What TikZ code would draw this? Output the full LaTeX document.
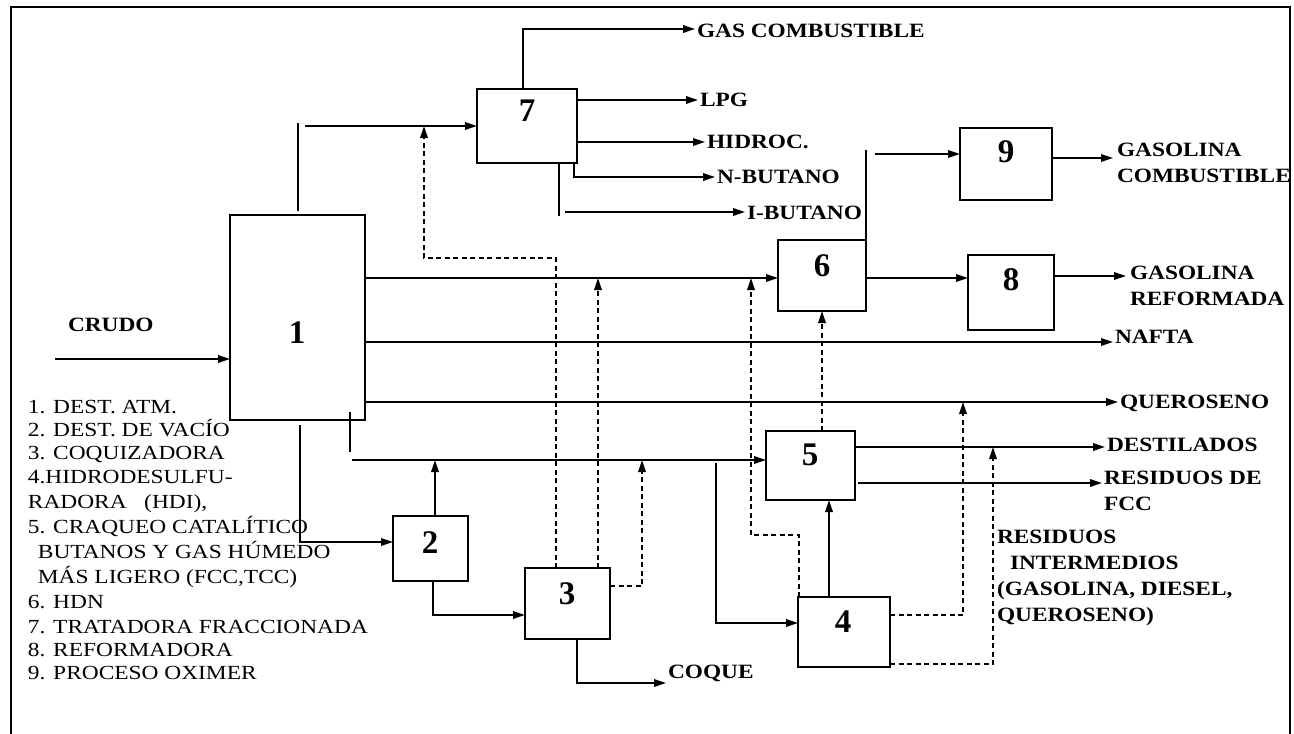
\documentclass[tikz,border=0pt]{standalone}
\usepackage{fontspec}
\setmainfont{Liberation Serif}
\newfontfamily\labfont[FakeStretch=1.15]{Liberation Serif}
\newfontfamily\legfont[FakeStretch=1.17]{Liberation Serif}
\usetikzlibrary{arrows.meta}
\begin{document}
\begin{tikzpicture}[x=1pt,y=-1pt,
  line width=1.8pt,
  box/.style={draw, line width=1.9pt, inner sep=0pt, outer sep=0pt},
  num/.style={font=\fontsize{33}{33}\selectfont\bfseries, inner sep=0pt},
  lab/.style={font=\labfont\fontsize{20.3}{26}\selectfont\bfseries, anchor=west, inner sep=0pt, outer sep=2pt, align=left},
  leg/.style={font=\legfont\fontsize{20}{24}\selectfont, anchor=base west, inner sep=0pt},
  arr/.style={-{Triangle[length=12pt,width=7.5pt]}},
  dsh/.style={dash pattern=on 5pt off 3.5pt},
]
\useasboundingbox (0,0) rectangle (1294,734);
% frame
\coordinate (fa) at (11,734);
\coordinate (fb) at (11,7);
\coordinate (fc) at (1290,7);
\coordinate (fd) at (1290,734);
\draw[line width=1.8pt] (fa) -- (fb) -- (fc) -- (fd);

% boxes
\node[box, minimum width=135pt, minimum height=205pt] (b1) at (297.5,317.5) {};
\node[box, minimum width=100pt, minimum height=74pt] (b7) at (527,126) {};
\node[box, minimum width=92pt, minimum height=72pt] (b9) at (1006,164) {};
\node[box, minimum width=88pt, minimum height=71pt] (b6) at (822,275.5) {};
\node[box, minimum width=86pt, minimum height=75pt] (b8) at (1011,292.5) {};
\node[box, minimum width=89pt, minimum height=69pt] (b5) at (810.5,465.5) {};
\node[box, minimum width=75pt, minimum height=65pt] (b2) at (430.5,548.5) {};
\node[box, minimum width=85pt, minimum height=71pt] (b3) at (567.5,603.5) {};
\node[box, minimum width=92pt, minimum height=70pt] (b4) at (844,632) {};

% numbers
\node[num] (n1) at (297,333) {1};
\node[num] (n7) at (527,111) {7};
\node[num] (n6) at (822,266) {6};
\node[num] (n9) at (1006,152) {9};
\node[num] (n8) at (1011,280) {8};
\node[num] (n5) at (810,455) {5};
\node[num] (n2) at (430,543) {2};
\node[num] (n3) at (567,594) {3};
\node[num] (n4) at (843,622) {4};

% labels
\node[lab] (gas) at (695,31) {GAS COMBUSTIBLE};
\node[lab] (lpg) at (698,100) {LPG};
\node[lab] (hid) at (705,142) {HIDROC.};
\node[lab] (nbu) at (715,177) {N-BUTANO};
\node[lab] (ibu) at (745,213) {I-BUTANO};
\node[lab] (gcomb) at (1115,163) {GASOLINA\\COMBUSTIBLE};
\node[lab] (gref) at (1128,286) {GASOLINA\\REFORMADA};
\node[lab] (nafta) at (1113,337) {NAFTA};
\node[lab] (quer) at (1118,403) {QUEROSENO};
\node[lab] (dest) at (1105,445) {DESTILADOS};
\node[lab] (rfcc) at (1102,491) {RESIDUOS DE\\FCC};
\node[lab] (coque) at (666,673) {COQUE};
\node[lab] (crudo) at (66,325) {CRUDO};
\node[lab, anchor=north west] (resint) at (995,528) {RESIDUOS\\\hspace*{13pt}INTERMEDIOS\\(GASOLINA, DIESEL,\\QUEROSENO)};

% legend
\node[leg] (l1) at (27,413.5) {1. DEST. ATM.};
\node[leg] (l2) at (27,436.5) {2. DEST. DE VACÍO};
\node[leg] (l3) at (27,459.5) {3. COQUIZADORA};
\node[leg] (l4) at (27,483) {4.HIDRODESULFU-};
\node[leg] (l4b) at (27,508) {RADORA\ \ \ (HDI),};
\node[leg] (l5) at (27,533) {5. CRAQUEO CATALÍTICO};
\node[leg] (l5b) at (37,558) {BUTANOS Y GAS HÚMEDO};
\node[leg] (l5c) at (37,583) {MÁS LIGERO (FCC,TCC)};
\node[leg] (l6) at (27,608) {6. HDN};
\node[leg] (l7) at (27,633) {7. TRATADORA FRACCIONADA};
\node[leg] (l8) at (27,656.5) {8. REFORMADORA};
\node[leg] (l9) at (27,679.5) {9. PROCESO OXIMER};

% crude feed
\coordinate (cin) at (55,359);
\draw[arr] (cin) -- (cin -| b1.west);

% box 1 top to box 7
\coordinate (t1a) at (298,211);
\coordinate (t1b) at (298,123);
\draw (t1a) -- (t1b);
\coordinate (j17) at (305,126);
\draw[arr] (j17) -- (b7.west);

% box 7 outputs
\coordinate (gt) at (523,29);
\draw[arr] (gt |- b7.north) -- (gt) -- (gt -| gas.west);
\draw[arr] (b7.east |- lpg.west) -- (lpg.west);
\draw[arr] (b7.east |- hid.west) -- (hid.west);
\coordinate (nb) at (574,177);
\draw[arr] (nb |- b7.south) -- (nb) -- (nb -| nbu.west);
\coordinate (ib1) at (559,216);
\draw (ib1 |- b7.south) -- (ib1);
\coordinate (ib2) at (565,212);
\draw[arr] (ib2) -- (ib2 -| ibu.west);

% box 6 to box 9
\coordinate (v9) at (866,150);
\draw (b6.north east) -- (v9);
\coordinate (f9) at (875,154);
\draw[arr] (f9) -- (f9 -| b9.west);
\coordinate (g9) at (1113,158);
\draw[arr] (g9 -| b9.east) -- (g9);

% box 1 to box 6, 6 to 8
\coordinate (l16) at (365,278);
\draw[arr] (l16) -- (l16 -| b6.west);
\coordinate (l68) at (866,278);
\draw[arr] (l68) -- (l68 -| b8.west);
\coordinate (g8) at (1126,276);
\draw[arr] (g8 -| b8.east) -- (g8);

% NAFTA, QUEROSENO
\coordinate (yN) at (365,342);
\draw[arr] (yN) -- (yN -| nafta.west);
\coordinate (yQ) at (365,402);
\draw[arr] (yQ) -- (yQ -| quer.west);

% box 1 bottom to box 5
\coordinate (v15a) at (350,412);
\coordinate (v15b) at (350,452);
\draw (v15a) -- (v15b);
\coordinate (h15) at (352,460);
\draw[arr] (h15) -- (h15 -| b5.west);

% box 5 outputs
\coordinate (yD) at (855,447);
\draw[arr] (yD) -- (yD -| dest.west);
\coordinate (yR) at (858,483);
\draw[arr] (yR) -- (yR -| rfcc.west);
\draw[dsh,arr] (b6.south |- b5.north) -- (b6.south);

% box 1 bottom to box 2
\coordinate (v12) at (300,425);
\coordinate (c12) at (300,542);
\draw[arr] (v12) -- (c12) -- (c12 -| b2.west);

% box 2 up
\coordinate (a2) at (435,460);
\draw[arr] (a2 |- b2.north) -- (a2);

% box 2 to box 3
\coordinate (c23) at (433,615);
\draw[arr] (c23 |- b2.south) -- (c23) -- (c23 -| b3.west);

% box 3 to coque
\coordinate (c3q) at (577,683);
\draw[arr] (c3q |- b3.south) -- (c3q) -- (c3q -| coque.west);

% box 3 dashed
\coordinate (d3a) at (556,258);
\coordinate (d7) at (424,126);
\draw[dsh,arr] (d3a |- b3.north) -- (d3a) -| (d7);
\coordinate (d36) at (598,278);
\draw[dsh,arr] (d36 |- b3.north) -- (d36);
\coordinate (d35) at (642,586);
\draw[dsh,arr] (d35 -| b3.east) -- (d35) -- (d35 |- h15);

% line to box 4
\coordinate (v4a) at (716,463);
\coordinate (v4b) at (716,623);
\draw[arr] (v4a) -- (v4b) -- (v4b -| b4.west);

% box 4 to box 5
\coordinate (x45) at (829,597);
\draw[arr] (x45 |- b4.north) -- (x45 |- b5.south);

% box 4 dashed
\coordinate (d4a) at (799,535);
\coordinate (d4b) at (751,278);
\draw[dsh,arr] (d4a |- b4.north) -- (d4a) -| (d4b);
\coordinate (d4q) at (963,615);
\draw[dsh,arr] (d4q -| b4.east) -- (d4q) -- (d4q |- yQ);
\coordinate (d4d) at (993,664);
\draw[dsh,arr] (d4d -| b4.east) -- (d4d) -- (d4d |- yD);
\end{tikzpicture}
\end{document}
